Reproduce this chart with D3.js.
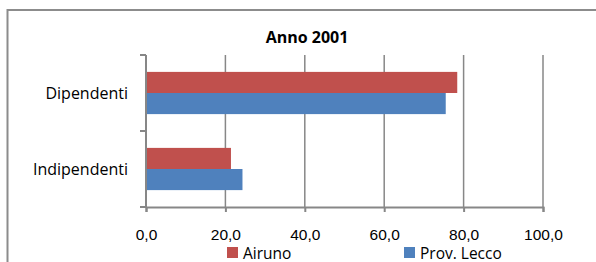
<!DOCTYPE html>
<html>
<head>
<meta charset="utf-8">
<script src="https://cdn.jsdelivr.net/npm/d3@7"></script>
<style>
  html, body { margin: 0; padding: 0; background: #fff; }
  svg { display: block; font-family: "Open Sans", "Noto Sans", sans-serif; }
</style>
</head>
<body>
<div id="chart"></div>
<script>
// Data
const categories = ["Dipendenti", "Indipendenti"];
const seriesNames = ["Airuno", "Prov. Lecco"];
const airuno = [78.4, 21.4];
const provLecco = [75.5, 24.3];
const xTicks = [0, 20, 40, 60, 80, 100];
const title = "Anno 2001";

const width = 596;
const height = 262;
const colors = ["#c0504d", "#4f81bd"];
const gridColor = "#878787";
const fontSize = 16;

const svg = d3.select("#chart")
  .append("svg")
  .attr("width", width)
  .attr("height", height);

// chart frame (right and bottom edges fall outside the picture)
svg.append("rect")
  .attr("x", 7.5)
  .attr("y", 10)
  .attr("width", 600)
  .attr("height", 300)
  .attr("fill", "none")
  .attr("stroke", "#8c8c8c")
  .attr("stroke-width", 2);

const plot = { left: 146, right: 543, top: 55, bottom: 207 };

const x = d3.scaleLinear().domain([0, 100]).range([plot.left, plot.right]);
const y = d3.scaleBand().domain(categories).range([plot.top, plot.bottom]);
const sub = d3.scaleBand().domain(seriesNames).range([0, y.bandwidth()]).paddingInner(0).paddingOuter(0.8);

// vertical gridlines
svg.append("g")
  .selectAll("line")
  .data(xTicks.slice(1))
  .join("line")
  .attr("x1", (d) => x(d))
  .attr("x2", (d) => x(d))
  .attr("y1", plot.top)
  .attr("y2", plot.bottom)
  .attr("stroke", gridColor)
  .attr("stroke-width", 1.5);

// bars
const rows = categories.map((c, i) => ({ cat: c, values: [airuno[i], provLecco[i]] }));
svg.append("g")
  .selectAll("g")
  .data(rows)
  .join("g")
  .attr("transform", (d) => `translate(0,${y(d.cat)})`)
  .selectAll("rect")
  .data((d) => d.values.map((v, j) => ({ name: seriesNames[j], v, j })))
  .join("rect")
  .attr("x", x(0))
  .attr("y", (d) => sub(d.name))
  .attr("width", (d) => x(d.v) - x(0))
  .attr("height", sub.bandwidth())
  .attr("fill", (d) => colors[d.j]);

// bottom axis
const xAxis = d3.axisBottom(x)
  .tickValues(xTicks)
  .tickSize(5)
  .tickPadding(17)
  .tickFormat((d) => d3.format(".1f")(d).replace(".", ","));

const gx = svg.append("g")
  .attr("transform", `translate(0,${plot.bottom})`)
  .call(xAxis);
gx.select(".domain").attr("stroke", gridColor).attr("stroke-width", 2);
gx.selectAll(".tick line").attr("stroke", gridColor).attr("stroke-width", 2);
gx.selectAll("text")
  .attr("font-size", 15.5)
  .attr("font-family", null)
  .attr("fill", "#000");

// left axis with ticks between categories
const yEdge = d3.scaleLinear().domain([0, categories.length]).range([plot.top, plot.bottom]);
svg.append("line")
  .attr("x1", plot.left)
  .attr("x2", plot.left)
  .attr("y1", plot.top)
  .attr("y2", plot.bottom)
  .attr("stroke", gridColor)
  .attr("stroke-width", 2);
svg.append("g")
  .selectAll("line")
  .data(d3.range(categories.length + 1))
  .join("line")
  .attr("x1", plot.left - 6)
  .attr("x2", plot.left)
  .attr("y1", (d) => yEdge(d))
  .attr("y2", (d) => yEdge(d))
  .attr("stroke", gridColor)
  .attr("stroke-width", 2);

svg.append("g")
  .selectAll("text")
  .data(categories)
  .join("text")
  .attr("x", plot.left - 18)
  .attr("y", (d) => y(d) + y.bandwidth() / 2)
  .attr("dy", "0.4em")
  .attr("text-anchor", "end")
  .attr("font-size", fontSize)
  .attr("fill", "#000")
  .text((d) => d);

// title
svg.append("text")
  .attr("x", 307)
  .attr("y", 43)
  .attr("text-anchor", "middle")
  .attr("font-size", fontSize)
  .attr("font-weight", "bold")
  .attr("fill", "#000")
  .text(title);

// legend
const legendX = [227, 404];
const legend = svg.append("g")
  .selectAll("g")
  .data(seriesNames)
  .join("g")
  .attr("transform", (d, i) => `translate(${legendX[i]},247)`);
legend.append("rect")
  .attr("width", 11)
  .attr("height", 11)
  .attr("fill", (d, i) => colors[i]);
legend.append("text")
  .attr("x", 16)
  .attr("y", 11.5)
  .attr("font-size", 15.5)
  .attr("fill", "#000")
  .text((d) => d);
</script>
</body>
</html>
